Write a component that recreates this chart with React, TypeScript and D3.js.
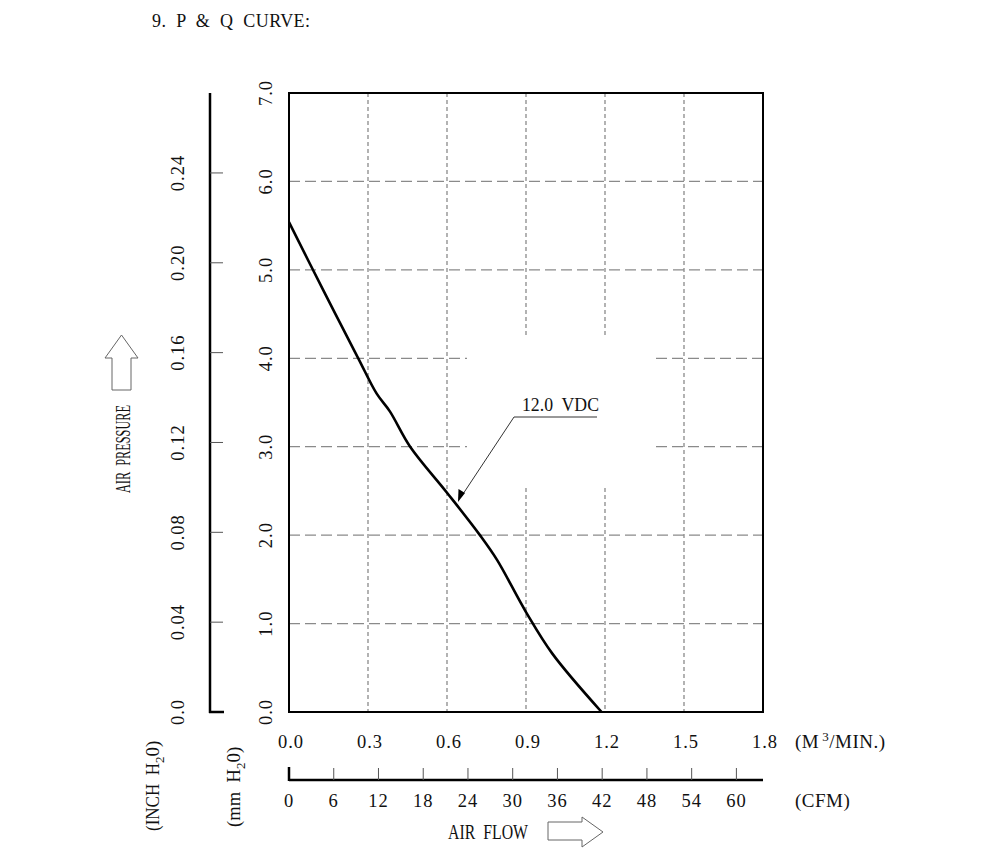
import React from "react";
import * as d3 from "d3";

const m3Ticks = [0, 0.3, 0.6, 0.9, 1.2, 1.5, 1.8];
const cfmTicks = [0, 6, 12, 18, 24, 30, 36, 42, 48, 54, 60];
const mmTicks = [0, 1, 2, 3, 4, 5, 6, 7];
const inchTicks = [0, 0.04, 0.08, 0.12, 0.16, 0.2, 0.24];
const flowM3 = [0, 0.13, 0.263, 0.333, 0.383, 0.46, 0.6, 0.725, 0.79, 0.9, 1.0, 1.187];
const pressureMm = [5.54, 4.77, 4.0, 3.6, 3.4, 3.0, 2.48, 2.0, 1.72, 1.13, 0.66, 0];
const curveLabel = "12.0 VDC";

const W = 1000, H = 857;
const L = 289, R = 763, T = 93, B = 712;
const FONT = "'Liberation Serif', 'DejaVu Serif', serif";

export default function App() {
  const x = d3.scaleLinear().domain([0, 1.8]).range([L, R]);
  const y = d3.scaleLinear().domain([0, 7]).range([B, T]);
  const xCfm = (c: number) => x(c * 0.0283168);
  const yInch = (v: number) => y(v * 25.4);
  const line = d3
    .line<number>()
    .x((d) => x(d))
    .y((_, i) => y(pressureMm[i]))
    .curve(d3.curveCatmullRom.alpha(0.5));
  const curve = line(flowM3) || "";
  const gridColor = "#8a8a8a";
  const gapX0 = 467, gapX1 = 656, gapY0 = 337, gapY1 = 488;

  const vGrid = m3Ticks.slice(1, -1).map((t) => {
    const xx = x(t);
    const inGap = xx > gapX0 && xx < gapX1;
    return inGap ? (
      <g key={"v" + t}>
        <line x1={xx} x2={xx} y1={T} y2={gapY0} />
        <line x1={xx} x2={xx} y1={gapY1} y2={B} />
      </g>
    ) : (
      <line key={"v" + t} x1={xx} x2={xx} y1={T} y2={B} />
    );
  });
  const hGrid = mmTicks.slice(1, -1).map((t) => {
    const yy = y(t);
    const inGap = yy > gapY0 && yy < gapY1;
    return inGap ? (
      <g key={"h" + t}>
        <line x1={L} x2={gapX0} y1={yy} y2={yy} />
        <line x1={gapX1} x2={R} y1={yy} y2={yy} />
      </g>
    ) : (
      <line key={"h" + t} x1={L} x2={R} y1={yy} y2={yy} />
    );
  });

  const txt = { fontFamily: FONT, fontSize: 18.5, fill: "#111", letterSpacing: 1 } as const;
  const lbl = { fontFamily: FONT, fontSize: 19, fill: "#111" } as const;

  return (
    <svg width={W} height={H} style={{ position: "absolute", left: 0, top: 0, background: "#fff" }}>
      <rect x={0} y={0} width={W} height={H} fill="#fff" />
      <text x={152} y={27} style={{ ...lbl, fontSize: 18 }} textLength={158} lengthAdjust="spacing" xmlSpace="preserve">
        9.  P  &amp;  Q  CURVE:
      </text>

      {/* grid */}
      <g stroke={gridColor} strokeWidth={1.3} strokeDasharray="4,3">{vGrid}</g>
      <g stroke={gridColor} strokeWidth={1.3} strokeDasharray="11,5">{hGrid}</g>

      {/* plot frame */}
      <rect x={L} y={T} width={R - L} height={B - T} fill="none" stroke="#000" strokeWidth={2} />

      {/* curve */}
      <path d={curve} fill="none" stroke="#000" strokeWidth={2.6} />

      {/* label and leader */}
      <text x={522} y={411} style={lbl} textLength={77} lengthAdjust="spacingAndGlyphs" xmlSpace="preserve">
        {curveLabel.replace(" ", "  ")}
      </text>
      <polyline points="597,417 514,417 461,497" fill="none" stroke="#333" strokeWidth={1} />
      <path d="M458,502 L458.5,489 L465,493 Z" fill="#000" />

      {/* mm axis labels */}
      {mmTicks.map((t) => (
        <text key={"mm" + t} transform={`translate(272,${y(t)}) rotate(-90)`} textAnchor="middle" style={txt}>
          {t.toFixed(1)}
        </text>
      ))}

      {/* inch axis */}
      <line x1={210} x2={210} y1={T} y2={B + 1} stroke="#000" strokeWidth={2.5} />
      <line x1={209} x2={224} y1={B} y2={B} stroke="#000" strokeWidth={2.5} />
      {inchTicks.slice(1).map((t) => (
        <line key={"it" + t} x1={210} x2={223} y1={yInch(t)} y2={yInch(t)} stroke="#555" strokeWidth={1} />
      ))}
      {inchTicks.map((t) => (
        <text key={"in" + t} transform={`translate(184,${yInch(t)}) rotate(-90)`} textAnchor="middle" style={txt}>
          {t === 0 ? "0.0" : t.toFixed(2)}
        </text>
      ))}

      {/* axis titles left */}
      <text transform="translate(159,831) rotate(-90)" style={lbl} xmlSpace="preserve">
        <tspan textLength={68} lengthAdjust="spacingAndGlyphs">(INCH  H</tspan>
        <tspan fontSize={13} dy={5}>2</tspan>
        <tspan dy={-5}>0)</tspan>
      </text>
      <text transform="translate(240,827) rotate(-90)" style={lbl} xmlSpace="preserve">
        <tspan textLength={58} lengthAdjust="spacingAndGlyphs">(mm  H</tspan>
        <tspan fontSize={13} dy={5}>2</tspan>
        <tspan dy={-5}>0)</tspan>
      </text>
      <text transform="translate(130,493) rotate(-90)" style={{ ...lbl, fontSize: 20 }} textLength={88} lengthAdjust="spacingAndGlyphs" xmlSpace="preserve">
        AIR  PRESSURE
      </text>
      <path d="M112,390 L112,358 L105,358 L121.5,335 L138,358 L131,358 L131,390 Z" fill="#fff" stroke="#666" strokeWidth={1} />

      {/* bottom m3 axis labels */}
      {m3Ticks.map((t) => (
        <text key={"m3" + t} x={x(t) + 2} y={748} textAnchor="middle" style={txt}>
          {t.toFixed(1)}
        </text>
      ))}
      <text x={795} y={748} style={{ ...lbl, letterSpacing: 0.5 }} xmlSpace="preserve">
        (M<tspan fontSize={13} dy={-7} dx={3}>3</tspan>
        <tspan dy={7}>/MIN.)</tspan>
      </text>

      {/* CFM axis */}
      <line x1={L} x2={R} y1={780} y2={780} stroke="#000" strokeWidth={2.5} />
      <line x1={L} x2={L} y1={767} y2={781} stroke="#000" strokeWidth={2.5} />
      {cfmTicks.slice(1).map((c) => (
        <line key={"ct" + c} x1={xCfm(c)} x2={xCfm(c)} y1={768} y2={780} stroke="#555" strokeWidth={1} />
      ))}
      {cfmTicks.map((c) => (
        <text key={"cf" + c} x={xCfm(c)} y={807} textAnchor="middle" style={txt}>
          {c}
        </text>
      ))}
      <text x={795} y={807} style={{ ...lbl, letterSpacing: 0.5 }}>(CFM)</text>

      <text x={448} y={839} style={{ ...lbl, fontSize: 20 }} textLength={80} lengthAdjust="spacingAndGlyphs" xmlSpace="preserve">
        AIR  FLOW
      </text>
      <path d="M548,822 L582,822 L582,817 L603,832 L582,847 L582,840 L548,840 Z" fill="#fff" stroke="#666" strokeWidth={1} />
    </svg>
  );
}
